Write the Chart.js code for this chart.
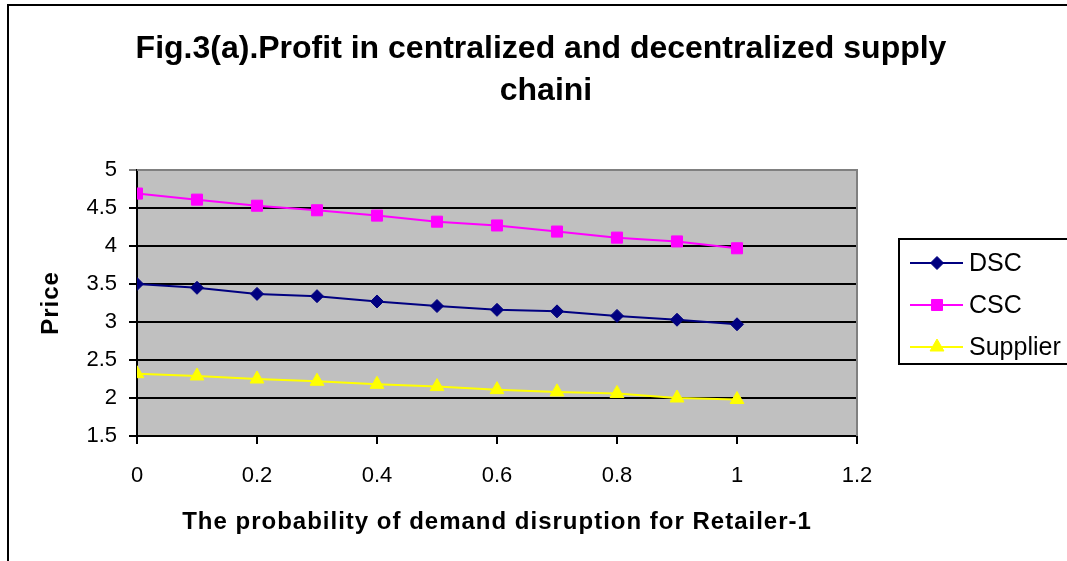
<!DOCTYPE html>
<html>
<head>
<meta charset="utf-8">
<script src="https://cdn.jsdelivr.net/npm/chart.js@4/dist/chart.umd.min.js"></script>
<style>
  html, body { margin: 0; padding: 0; background: #ffffff; }
  #wrap { width: 1067px; height: 561px; position: relative; }
</style>
</head>
<body>
<div id="wrap"><canvas id="c" width="1067" height="561"></canvas></div>
<script>
// Probability of demand disruption for Retailer-1
const probabilities = [0, 0.1, 0.2, 0.3, 0.4, 0.5, 0.6, 0.7, 0.8, 0.9, 1.0];

// Series values
const dscValues      = [3.50, 3.45, 3.37, 3.34, 3.27, 3.21, 3.16, 3.14, 3.08, 3.03, 2.97];
const cscValues      = [4.69, 4.61, 4.53, 4.47, 4.40, 4.32, 4.27, 4.19, 4.11, 4.06, 3.97];
const supplierValues = [2.32, 2.29, 2.25, 2.22, 2.18, 2.15, 2.11, 2.08, 2.06, 2.00, 1.98];

// Axis tick labels
const xTickValues = [0, 0.2, 0.4, 0.6, 0.8, 1, 1.2];
const xTickLabels = ['0', '0.2', '0.4', '0.6', '0.8', '1', '1.2'];
const yTickValues = [1.5, 2, 2.5, 3, 3.5, 4, 4.5, 5];
const yTickLabels = ['1.5', '2', '2.5', '3', '3.5', '4', '4.5', '5'];

const seriesNames = ['DSC', 'CSC', 'Supplier'];

const titleLines = ['Fig.3(a).Profit in centralized and decentralized supply', 'chaini'];
const xTitle = 'The probability of demand disruption for Retailer-1';
const yTitle = 'Price';

const FONT = "'Liberation Sans', Arial, Helvetica, sans-serif";

function toPoints(values) {
  return values.map((v, i) => ({ x: probabilities[i], y: v }));
}

function drawMarkerPath(ctx, style, r, x, y) {
  if (style === 'rectRot') {
    ctx.moveTo(x - r, y); ctx.lineTo(x, y - r); ctx.lineTo(x + r, y); ctx.lineTo(x, y + r); ctx.closePath();
  } else if (style === 'rect') {
    const s = r * Math.SQRT1_2;
    ctx.rect(x - s, y - s, 2 * s, 2 * s);
  } else if (style === 'triangle') {
    const w = r * Math.sqrt(3) / 2;
    ctx.moveTo(x, y - r); ctx.lineTo(x + w, y + r / 2); ctx.lineTo(x - w, y + r / 2); ctx.closePath();
  }
}

// Frame, plot background, titles and legend box
const decorations = {
  id: 'decorations',
  beforeDraw(chart) {
    const { ctx, chartArea: a } = chart;
    ctx.save();
    ctx.fillStyle = '#ffffff';
    ctx.fillRect(0, 0, chart.width, chart.height);
    ctx.strokeStyle = '#000000';
    ctx.lineWidth = 2;
    ctx.strokeRect(8, 5, chart.width + 20, chart.height + 20);
    ctx.fillStyle = '#c0c0c0';
    ctx.fillRect(a.left, a.top, a.right - a.left, a.bottom - a.top);
    ctx.fillStyle = '#000000';
    ctx.font = 'bold 32px ' + FONT;
    ctx.textAlign = 'center';
    ctx.textBaseline = 'middle';
    ctx.fillText(titleLines[0], 541, 49);
    ctx.fillText(titleLines[1], 546, 91);
    // axis titles
    const cx = (a.left + a.right) / 2;
    const cy = (a.top + a.bottom) / 2;
    ctx.font = 'bold 24px ' + FONT;
    ctx.letterSpacing = '1px';
    ctx.fillText(xTitle, cx, 522);
    ctx.translate(51, cy);
    ctx.rotate(-Math.PI / 2);
    ctx.font = 'bold 24px ' + FONT;
    ctx.letterSpacing = '1px';
    ctx.fillText(yTitle, 0, 0);
    ctx.restore();
  },
  beforeDatasetsDraw(chart) {
    const { ctx, chartArea: a } = chart;
    ctx.save();
    ctx.strokeStyle = '#808080';
    ctx.lineWidth = 2;
    ctx.beginPath();
    ctx.moveTo(a.left, a.top);
    ctx.lineTo(a.right, a.top);
    ctx.lineTo(a.right, a.bottom);
    ctx.stroke();
    ctx.restore();
  },
  afterDraw(chart) {
    const { ctx } = chart;
    ctx.save();
    ctx.strokeStyle = '#000000';
    ctx.lineWidth = 2;
    ctx.strokeRect(899, 239, 200, 125);
    const rowY = [263, 305, 347];
    chart.data.datasets.forEach((ds, i) => {
      const y = rowY[i];
      ctx.strokeStyle = ds.borderColor;
      ctx.lineWidth = ds.borderWidth;
      ctx.beginPath();
      ctx.moveTo(910, y);
      ctx.lineTo(963, y);
      ctx.stroke();
      ctx.fillStyle = ds.pointBackgroundColor;
      ctx.strokeStyle = ds.pointBorderColor;
      ctx.lineWidth = 1;
      ctx.beginPath();
      drawMarkerPath(ctx, ds.pointStyle, ds.pointRadius, 937, y);
      ctx.fill();
      ctx.stroke();
      ctx.fillStyle = '#000000';
      ctx.font = '25px ' + FONT;
      ctx.textAlign = 'left';
      ctx.textBaseline = 'middle';
      ctx.fillText(ds.label, 969, y + 1);
    });
    ctx.restore();
  }
};

const seriesColors = ['#000080', '#ff00ff', '#ffff00'];
const seriesStyles = ['rectRot', 'rect', 'triangle'];
const seriesRadius = [6.5, 7.8, 8];
const seriesData = [dscValues, cscValues, supplierValues];

new Chart(document.getElementById('c'), {
  type: 'line',
  data: {
    datasets: seriesNames.map((name, i) => ({
      label: name,
      data: toPoints(seriesData[i]),
      borderColor: seriesColors[i],
      backgroundColor: seriesColors[i],
      pointBackgroundColor: seriesColors[i],
      pointBorderColor: seriesColors[i],
      pointStyle: seriesStyles[i],
      pointRadius: seriesRadius[i],
      pointBorderWidth: 1,
      borderWidth: 2,
      tension: 0,
      fill: false
    }))
  },
  options: {
    responsive: false,
    animation: false,
    events: [],
    layout: { padding: { left: 0, top: 170, right: 210, bottom: 0 } },
    plugins: {
      legend: { display: false },
      title: { display: false },
      tooltip: { enabled: false }
    },
    scales: {
      x: {
        type: 'linear',
        min: 0,
        max: 1.2,
        afterFit(s) { s.height = 125; },
        afterBuildTicks(s) { s.ticks = xTickValues.map(v => ({ value: v })); },
        grid: { drawOnChartArea: false, drawTicks: true, tickLength: 8, color: '#000000', lineWidth: 2 },
        border: { display: true, color: '#000000', width: 2 },
        ticks: {
          padding: 19,
          color: '#000000',
          font: { family: FONT, size: 22 },
          maxRotation: 0,
          autoSkip: false,
          callback: (value, index) => xTickLabels[index]
        }
      },
      y: {
        type: 'linear',
        min: 1.5,
        max: 5,
        afterFit(s) { s.width = 137; },
        afterBuildTicks(s) { s.ticks = yTickValues.map(v => ({ value: v })); },
        grid: {
          drawOnChartArea: true,
          drawTicks: true,
          tickLength: 8,
          lineWidth: 2,
          color: (ctx) => (ctx.tick && ctx.tick.value === 5 ? '#808080' : '#000000')
        },
        border: { display: true, color: '#000000', width: 2 },
        ticks: {
          padding: 12,
          color: '#000000',
          font: { family: FONT, size: 22 },
          autoSkip: false,
          callback: (value, index) => yTickLabels[index]
        }
      }
    }
  },
  plugins: [decorations]
});
</script>
</body>
</html>
